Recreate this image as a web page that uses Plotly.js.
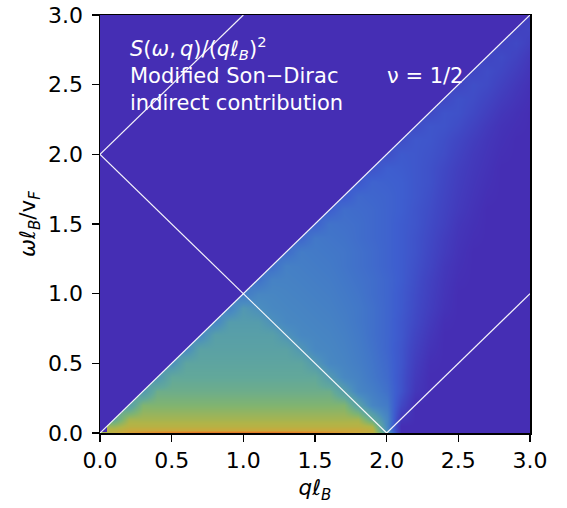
<!DOCTYPE html>
<html>
<head>
<meta charset="utf-8">
<script src="https://cdn.plot.ly/plotly-3.0.1.min.js"></script>
<style>html,body{margin:0;padding:0;background:#fff;}#chart{width:567px;height:508px;}</style>
</head>
<body>
<div id="chart"></div>
<script>
// q grid (columns) and omega grid (rows)
const qVals = [0,0.1,0.2,0.3,0.4,0.5,0.6,0.7,0.8,0.9,1.0,1.1,1.2,1.3,1.4,1.5,1.6,1.7,1.8,1.9,2.0,2.1,2.2,2.3,2.4,2.5,2.6,2.7,2.8,2.9,3.0];
const wVals = [0,0.02,0.05,0.1,0.2,0.3,0.4,0.5,0.6,0.7,0.8,0.9,1.0,1.1,1.2,1.3,1.4,1.5,1.6,1.7,1.8,1.9,2.0,2.1,2.2,2.3,2.4,2.5,2.6,2.7,2.8,2.9,3.0];
// normalized S(omega,q)/(q l_B)^2 (rows = omega);
// null = outside the continuum above omega = q (no weight, drawn as background)
const N = null;
const sVals = [
 [.70,.82,.88,.92,.95,.97,.98,.99,.99,.99, .99,.99,.99,.98,.97,.95,.92,.88,.84,.80, .55,0,0,0,0,0,0,0,0,0, 0],
 [N,.78,.83,.83,.83,.83,.83,.83,.83,.83, .83,.83,.83,.83,.83,.83,.83,.83,.83,.80, .45,0,0,0,0,0,0,0,0,0, 0],
 [N,.72,.78,.78,.78,.78,.78,.78,.78,.78, .78,.78,.78,.78,.78,.78,.78,.78,.78,.75, .43,0,0,0,0,0,0,0,0,0, 0],
 [N,.59,.74,.74,.74,.74,.74,.74,.74,.74, .74,.74,.74,.74,.74,.74,.74,.74,.74,.60, .42,.05,0,0,0,0,0,0,0,0, 0],
 [N,N,.54,.68,.68,.68,.68,.68,.68,.68, .68,.68,.68,.68,.68,.68,.68,.68,.55,.42, .36,.15,0,0,0,0,0,0,0,0, 0],
 [N,N,N,.50,.63,.63,.63,.63,.63,.63, .63,.63,.63,.63,.63,.63,.63,.53,.42,.38, .32,.20,.05,0,0,0,0,0,0,0, 0],
 [N,N,N,N,.48,.60,.60,.60,.60,.60, .60,.60,.60,.60,.60,.60,.51,.43,.40,.35, .30,.20,.07,0,0,0,0,0,0,0, 0],
 [N,N,N,N,N,.46,.575,.575,.575,.575, .575,.575,.575,.575,.575,.50,.43,.41,.38,.34, .29,.21,.09,.01,0,0,0,0,0,0, 0],
 [N,N,N,N,N,N,.44,.555,.555,.555, .555,.555,.555,.555,.49,.43,.42,.40,.37,.33, .28,.21,.11,.03,0,0,0,0,0,0, 0],
 [N,N,N,N,N,N,N,.43,.54,.54, .54,.54,.54,.48,.43,.42,.41,.39,.36,.32, .28,.22,.13,.05,0,0,0,0,0,0, 0],
 [N,N,N,N,N,N,N,N,.42,.52, .52,.52,.47,.43,.42,.41,.40,.38,.35,.32, .28,.22,.15,.07,.01,0,0,0,0,0, 0],
 [N,N,N,N,N,N,N,N,N,.40, .50,.46,.43,.42,.41,.40,.39,.37,.35,.32, .28,.23,.16,.09,.03,0,0,0,0,0, 0],
 [N,N,N,N,N,N,N,N,N,N, .36,.42,.42,.41,.40,.39,.38,.36,.34,.31, .28,.23,.17,.10,.04,0,0,0,0,0, 0],
 [N,N,N,N,N,N,N,N,N,N, N,.32,.40,.40,.39,.38,.37,.35,.33,.31, .28,.24,.18,.11,.05,.01,0,0,0,0, 0],
 [N,N,N,N,N,N,N,N,N,N, N,N,.31,.39,.38,.37,.36,.34,.32,.30, .27,.24,.19,.13,.06,.02,0,0,0,0, 0],
 [N,N,N,N,N,N,N,N,N,N, N,N,N,.30,.37,.36,.35,.34,.32,.30, .27,.24,.20,.14,.08,.03,0,0,0,0, 0],
 [N,N,N,N,N,N,N,N,N,N, N,N,N,N,.28,.35,.34,.33,.31,.29, .27,.24,.20,.15,.09,.04,.01,0,0,0, 0],
 [N,N,N,N,N,N,N,N,N,N, N,N,N,N,N,.26,.33,.32,.31,.29, .27,.24,.21,.16,.11,.05,.02,0,0,0, 0],
 [N,N,N,N,N,N,N,N,N,N, N,N,N,N,N,N,.25,.31,.30,.29, .27,.25,.21,.17,.12,.07,.03,0,0,0, 0],
 [N,N,N,N,N,N,N,N,N,N, N,N,N,N,N,N,N,.23,.29,.28, .27,.25,.22,.18,.13,.08,.04,.01,0,0, 0],
 [N,N,N,N,N,N,N,N,N,N, N,N,N,N,N,N,N,N,.22,.27, .26,.25,.22,.19,.14,.09,.05,.02,0,0, 0],
 [N,N,N,N,N,N,N,N,N,N, N,N,N,N,N,N,N,N,N,.20, .25,.24,.22,.19,.15,.10,.06,.03,0,0, 0],
 [N,N,N,N,N,N,N,N,N,N, N,N,N,N,N,N,N,N,N,N, .18,.23,.22,.20,.17,.12,.07,.04,.01,0, 0],
 [N,N,N,N,N,N,N,N,N,N, N,N,N,N,N,N,N,N,N,N, N,.18,.22,.21,.18,.14,.09,.05,.02,0, 0],
 [N,N,N,N,N,N,N,N,N,N, N,N,N,N,N,N,N,N,N,N, N,N,.17,.21,.20,.17,.12,.07,.03,.01, 0],
 [N,N,N,N,N,N,N,N,N,N, N,N,N,N,N,N,N,N,N,N, N,N,N,.16,.20,.19,.15,.10,.05,.02, 0],
 [N,N,N,N,N,N,N,N,N,N, N,N,N,N,N,N,N,N,N,N, N,N,N,N,.15,.19,.17,.13,.08,.04, .01],
 [N,N,N,N,N,N,N,N,N,N, N,N,N,N,N,N,N,N,N,N, N,N,N,N,N,.14,.18,.16,.11,.06, .02],
 [N,N,N,N,N,N,N,N,N,N, N,N,N,N,N,N,N,N,N,N, N,N,N,N,N,N,.14,.17,.14,.09, .04],
 [N,N,N,N,N,N,N,N,N,N, N,N,N,N,N,N,N,N,N,N, N,N,N,N,N,N,N,.13,.16,.12, .06],
 [N,N,N,N,N,N,N,N,N,N, N,N,N,N,N,N,N,N,N,N, N,N,N,N,N,N,N,N,.12,.15, .10],
 [N,N,N,N,N,N,N,N,N,N, N,N,N,N,N,N,N,N,N,N, N,N,N,N,N,N,N,N,N,.11, .13],
 [N,N,N,N,N,N,N,N,N,N, N,N,N,N,N,N,N,N,N,N, N,N,N,N,N,N,N,N,N,N, .10]
];
// colour map stops
const cmapPos = [0, 0.15, 0.25, 0.35, 0.45, 0.52, 0.60, 0.68, 0.76, 0.84, 0.92, 1.0];
const cmapCol = ['#452eb4','#4048c4','#3e5ecf','#4278c8','#4a8cc0','#559cac','#62a89a','#80b470','#b0b448','#cca83a','#e08a2a','#d8401c'];
// boundary lines omega = q+2, omega = q, omega = 2-q, omega = q-2
const lineQ = [[0,1],[0,3],[0,2],[2,3]];
const lineW = [[2,3],[0,3],[2,0],[0,1]];
const axRange = [0, 3];
const tickVals = [0,0.5,1.0,1.5,2.0,2.5,3.0];
const tickText = ['0.0','0.5','1.0','1.5','2.0','2.5','3.0'];

const colorscale = cmapPos.map((p,i)=>[p, cmapCol[i]]);
const bg = cmapCol[0];

const heat = {
  type:'heatmap', x:qVals, y:wVals, z:sVals, zmin:0, zmax:1,
  colorscale:colorscale, showscale:false, zsmooth:'best', connectgaps:false, hoverinfo:'skip'
};
// region above omega = q has no spectral weight: fill it with the zero colour
const mask = {
  type:'scatter', mode:'lines',
  x:[lineQ[1][0], lineQ[1][1], axRange[0], lineQ[1][0]],
  y:[lineW[1][0], lineW[1][1], axRange[1], lineW[1][0]],
  fill:'toself', fillcolor:bg, line:{width:0, color:bg}, hoverinfo:'skip', showlegend:false
};
const lx = [], ly = [];
lineQ.forEach((seg,i)=>{ lx.push(seg[0], seg[1], null); ly.push(lineW[i][0], lineW[i][1], null); });
const lines = {
  type:'scatter', mode:'lines', x:lx, y:ly,
  line:{color:'rgba(255,255,255,0.95)', width:1.2}, hoverinfo:'skip', showlegend:false
};

const fnt = 'DejaVu Sans, sans-serif';
const axisCommon = {
  range:axRange, tickvals:tickVals, ticktext:tickText, ticks:'outside', ticklen:7, tickwidth:1.5,
  tickcolor:'#000', showline:true, linecolor:'#000', linewidth:1.5, mirror:true,
  showgrid:false, zeroline:false, tickfont:{family:fnt, size:22, color:'#000'}
};
const layout = {
  width:567, height:508,
  margin:{l:100, r:37, t:15, b:75},
  paper_bgcolor:'#fff', plot_bgcolor:bg,
  showlegend:false,
  xaxis:Object.assign({}, axisCommon, {
    title:{text:'<i>qℓ</i><sub><i>B</i></sub>', font:{family:fnt, size:21.5, color:'#000'}, standoff:8}
  }),
  yaxis:Object.assign({}, axisCommon, {
    ticklabelstandoff:4,
    title:{text:'<i>ωℓ</i><sub><i>B</i></sub>/v<sub><i>F</i></sub>', font:{family:fnt, size:21.5, color:'#000'}, standoff:6}
  }),
  annotations:[
    {xref:'paper', yref:'paper', x:0.066, y:0.962, xanchor:'left', yanchor:'top', align:'left', showarrow:false,
     text:'<i>S</i>(<i>ω</i>,\u2009<i>q</i>)/(<i>qℓ</i><sub><i>B</i></sub>)<sup>2</sup><br>Modified Son−Dirac<br>indirect contribution',
     font:{family:fnt, size:21, color:'#fff'}},
    {xref:'paper', yref:'paper', x:0.663, y:0.853, xanchor:'left', yanchor:'middle', showarrow:false,
     text:'ν = 1/2', font:{family:fnt, size:21, color:'#fff'}}
  ]
};
Plotly.newPlot('chart', [heat, mask, lines], layout, {displayModeBar:false, staticPlot:true});
</script>
</body>
</html>
